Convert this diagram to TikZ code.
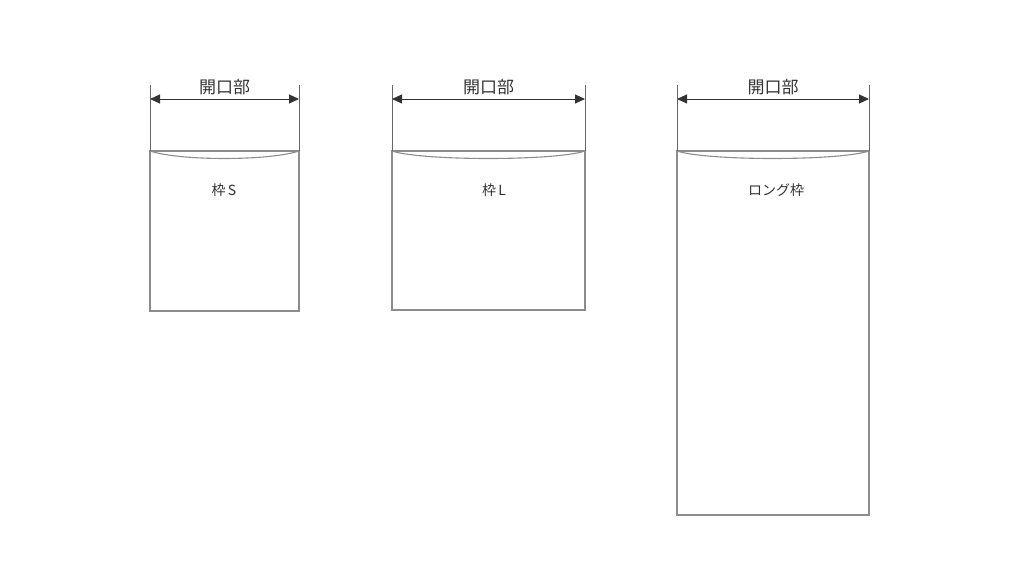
\documentclass[tikz,border=0pt]{standalone}
\usepackage{fontspec}
\newfontfamily\cjk{Noto Sans CJK JP}
\usetikzlibrary{arrows.meta,calc}
\begin{document}
\begin{tikzpicture}[x=1pt,y=-1pt,
  frame/.style={draw=black!45,line width=1.1pt},
  dim/.style={draw=black!80,line width=0.9pt,{Triangle[length=10pt,width=9pt]}-{Triangle[length=10pt,width=9pt]}},
  ext/.style={draw=black!60,line width=0.8pt},
  lbl/.style={font=\cjk\fontsize{17}{17}\selectfont,text=black!80},
  small/.style={font=\cjk\fontsize{14}{14}\selectfont,text=black!80}]
\useasboundingbox (0,0) rectangle (1024,580);
\foreach \n/\l/\r/\b/\t/\tx in {s/150/299/311/{枠\,S}/224, l/392/585/310/{枠\,L}/494, g/677/869/515/{ロング枠}/776}{
  \coordinate (\n tl) at (\l,151);
  \coordinate (\n tr) at (\r,151);
  \coordinate (\n bl) at (\l,\b);
  \coordinate (\n br) at (\r,\b);
  \draw[frame] (\n tl) -- (\n bl) -- (\n br) -- (\n tr) -- cycle;
  \draw[frame] (\n tl) .. controls ($(\n tl)+(30,10)$) and ($(\n tr)+(-30,10)$) .. (\n tr);
  \coordinate (\n el) at (\l,85);
  \coordinate (\n er) at (\r,85);
  \draw[ext] (\n el) -- (\n tl);
  \draw[ext] (\n er) -- (\n tr);
  \coordinate (\n al) at (\l,99);
  \coordinate (\n ar) at (\r,99);
  \draw[dim] (\n al) -- (\n ar);
  \node[lbl] (\n lab) at ($(\n al)!0.5!(\n ar)+(0,-12)$) {開口部};
  \node[small] (\n name) at (\tx,190) {\t};
}
\end{tikzpicture}
\end{document}
